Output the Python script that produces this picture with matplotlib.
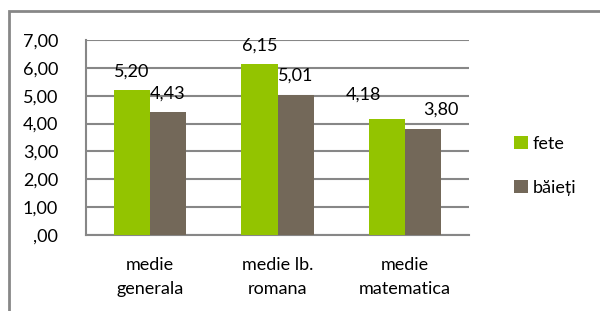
import numpy as np
import matplotlib.pyplot as plt
from matplotlib.patches import Rectangle

# data
categories = ['medie\ngenerala', 'medie lb.\nromana', 'medie\nmatematica']
fete = [5.20, 6.15, 4.18]
baieti = [4.43, 5.01, 3.80]
yticks = [0, 1, 2, 3, 4, 5, 6, 7]

# label offsets in pixels (dx, dy) for fete and baieti
fete_off = [(0, 11), (0, 10), (-24, 16)]
baieti_off = [(0, 10), (0, 12), (18, 12)]

green = '#93C400'
brown = '#736859'
grid_c = '#878787'

plt.rcParams['font.family'] = ['Lato', 'DejaVu Sans']


def fmt(v):
    s = f"{v:.2f}".replace('.', ',')
    if s.startswith('0'):
        s = s[1:]
    return s


fig = plt.figure(figsize=(6, 3.11), dpi=100)
fig.patches.append(Rectangle((9 / 600, -0.1), 1.2, (311 - 11) / 311 + 0.1,
                             transform=fig.transFigure, fill=False,
                             edgecolor=grid_c, linewidth=2))
ax = fig.add_axes([86 / 600, 76 / 311, 383 / 600, 195 / 311])

x = np.arange(len(categories))
w = 0.282
b1 = ax.bar(x - w / 2, fete, w, color=green, label='fete', zorder=3)
b2 = ax.bar(x + w / 2, baieti, w, color=brown, label='băieți', zorder=3)

for bars, vals, offs in ((b1, fete, fete_off), (b2, baieti, baieti_off)):
    for r, v, (dx, dy) in zip(bars, vals, offs):
        ax.annotate(fmt(v), (r.get_x() + r.get_width() / 2, v),
                    xytext=(dx, dy), textcoords='offset pixels',
                    ha='center', va='bottom', fontsize=13, color='black')

ax.set_xlim(-0.5, 2.5)
ax.set_ylim(0, 7)
ax.set_yticks(yticks)
ax.set_yticklabels([fmt(t) for t in yticks], fontsize=13)
ax.set_xticks(x)
ax.set_xticklabels(categories, fontsize=13, linespacing=1.6)
ax.tick_params(axis='both', length=0)
ax.tick_params(axis='y', pad=20)
ax.tick_params(axis='x', pad=16)
ax.grid(axis='y', color=grid_c, linewidth=1.5, zorder=0)
for s in ['top', 'right']:
    ax.spines[s].set_visible(False)
for s in ['left', 'bottom']:
    ax.spines[s].set_color(grid_c)
    ax.spines[s].set_linewidth(1.5)

fig.legend(handles=[b1, b2], loc='center left', bbox_to_anchor=(498 / 600, 1 - 166 / 311),
           frameon=False, fontsize=13, handlelength=0.75, handleheight=0.75,
           handletextpad=0.25, labelspacing=1.55)

fig.savefig('out.png', dpi=100)
